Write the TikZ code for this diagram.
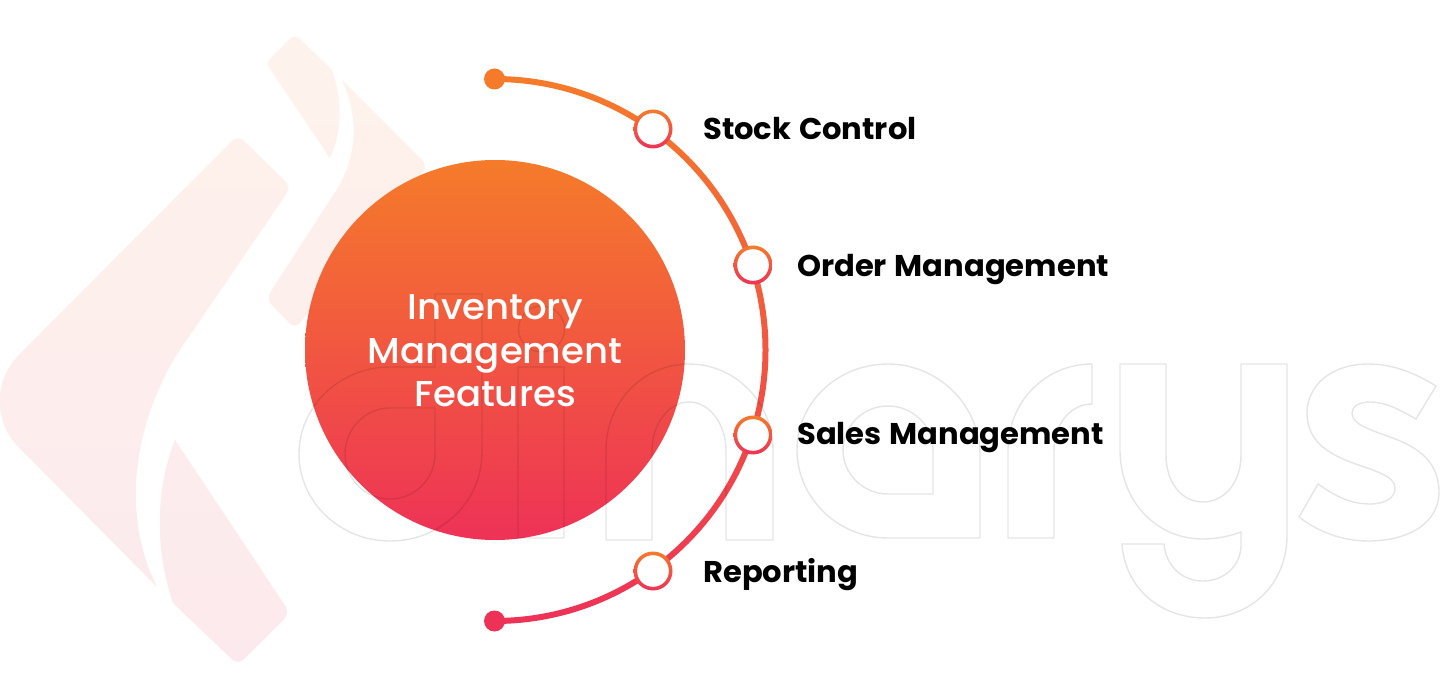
\documentclass[tikz,border=0pt]{standalone}
\usepackage{fontspec}
\setmainfont{Poppins}
\newfontfamily\hubfont{Poppins Medium}[FakeStretch=1.03]
\newfontfamily\itemfont{Poppins Bold}[FakeStretch=1.02,WordSpace=1.2]
\definecolor{warm}{HTML}{F57B2A}
\definecolor{rose}{HTML}{EE3257}
\definecolor{tintwarm}{HTML}{FEF3EC}
\definecolor{tintrose}{HTML}{FCE9ED}
\tikzset{
  hubdisc/.style={circle,minimum size=380pt,inner sep=0pt,shade,top color=warm,bottom color=rose},
  ringmark/.style={circle,minimum size=39pt,inner sep=0pt,shade,top color=warm,bottom color=rose,
    path picture={\fill[white] (path picture bounding box.center) circle[radius=15.8pt];}},
  enddot/.style={circle,minimum size=21pt,inner sep=0pt,fill=#1},
  hubtext/.style={text=white,align=center,font=\hubfont\fontsize{36}{43.5}\selectfont,inner sep=0pt},
  itemtext/.style={anchor=base west,inner sep=0pt,text=black,font=\itemfont\fontsize{30}{36}\selectfont},
  outline/.style={draw=black,draw opacity=.1,line width=1.4pt,line join=miter}
}
\begin{document}
\begin{tikzpicture}[x=1pt,y=-1pt]
\useasboundingbox (0,0) rectangle (1440,700);
\fill[white] (0,0) rectangle (1440,700);

% pale brand mark behind everything, one gradient over its four pieces
\begin{scope}
  \clip
    % small upper piece
    [rounded corners=6pt] (332,70) -- (295,34) -- (266,63) [sharp corners] -- (330,158)
      .. controls (343,130) and (342,98) .. (332,70) -- cycle
    % right piece, tucked under the disc
    (342,80) [rounded corners=8pt] -- (428,166) -- (295,329) -- (266,299) [sharp corners] -- (330,200)
      .. controls (355,165) and (362,125) .. (342,80) -- cycle
    % large left piece
    (157,587) [rounded corners=65pt] -- (-27,401) [rounded corners=8pt] -- (238,135) -- (291,187) [sharp corners]
      -- (190,335) .. controls (135,410) and (118,510) .. (157,587) -- cycle
    % lower piece
    (175,440) [rounded corners=8pt] -- (290,613) -- (238,665) [sharp corners] -- (173,603)
      .. controls (155,550) and (155,490) .. (175,440) -- cycle;
  \shade[top color=tintwarm,bottom color=tintrose] (-5,30) rectangle (440,670);
\end{scope}

% central disc
\node[hubdisc] (hub) at (495,350) {};

% curved spine between its two end dots
\node[enddot=warm] (dottop) at (494.5,79) {};
\node[enddot=rose] (dotbot) at (494.5,621) {};
\shade[top color=warm,bottom color=rose]
  ([yshift=3pt]dottop.center) arc[start angle=90,end angle=-90,radius=274pt]
  -- ([yshift=3pt]dotbot.center) arc[start angle=-90,end angle=90,radius=268pt] -- cycle;

% outlined wordmark
\path[outline]
  % d
  (482,294) -- (482,452) .. controls (482,502) and (441,541) .. (390,541)
    .. controls (340,541) and (299,502) .. (299,454)
    .. controls (299,406) and (340,367) .. (390,367) -- (435,367) -- (435,294) -- cycle
  (435,408) -- (390,408) .. controls (365,408) and (345,429) .. (345,454)
    .. controls (345,479) and (365,499) .. (390,499)
    .. controls (415,499) and (435,479) .. (435,454) -- cycle
  % i
  (518,367) rectangle (564,538)
  (541.5,329) circle[radius=23pt]
  % n
  (606,540) -- (606,450) .. controls (606,402) and (643,364) .. (689,364)
    .. controls (735,364) and (773,402) .. (773,450) -- (773,540) -- (726,540) -- (726,450)
    .. controls (726,425) and (710,402) .. (689,402)
    .. controls (668,402) and (652,425) .. (652,450) -- (652,540) -- cycle
  % a
  (980,538) -- (980,455) .. controls (980,405) and (938,364) .. (888,364)
    .. controls (838,364) and (797,402) .. (797,450)
    .. controls (797,498) and (838,538) .. (888,538) -- cycle
  (933,494) -- (888,494) .. controls (863,494) and (843,474) .. (843,450)
    .. controls (843,426) and (863,406) .. (888,406)
    .. controls (913,406) and (933,426) .. (933,450) -- cycle
  % r
  (1008,538) -- (1008,450) .. controls (1008,402) and (1045,364) .. (1092,364) -- (1092,404)
    .. controls (1070,404) and (1054,425) .. (1054,450) -- (1054,538) -- cycle
  % y
  (1120,364) -- (1166,364) -- (1166,455) .. controls (1166,483) and (1182,502) .. (1203,502)
    .. controls (1224,502) and (1241,483) .. (1241,455) -- (1241,364) -- (1287,364) -- (1287,535)
    .. controls (1287,585) and (1250,618) .. (1205,618)
    .. controls (1160,618) and (1125,588) .. (1122,544) -- (1164,544)
    .. controls (1166,566) and (1182,581) .. (1203,581)
    .. controls (1224,581) and (1241,566) .. (1241,545) -- (1241,532)
    .. controls (1230,536) and (1217,539) .. (1203,539)
    .. controls (1155,539) and (1120,500) .. (1120,450) -- cycle
  % s
  (1436,386) .. controls (1415,373) and (1393,364) .. (1368,364)
    .. controls (1332,364) and (1307,385) .. (1307,413)
    .. controls (1307,445) and (1335,456) .. (1353,463)
    .. controls (1375,471) and (1395,476) .. (1395,488)
    .. controls (1395,498) and (1385,504) .. (1370,504)
    .. controls (1350,504) and (1335,496) .. (1318,484) -- (1299,517)
    .. controls (1318,532) and (1343,541) .. (1368,541)
    .. controls (1410,541) and (1439,522) .. (1439,492)
    .. controls (1439,458) and (1412,445) .. (1390,437)
    .. controls (1368,429) and (1352,424) .. (1352,413)
    .. controls (1352,406) and (1360,402) .. (1370,402)
    .. controls (1386,402) and (1400,410) .. (1416,419) -- cycle;

% hub caption
\node[hubtext] (hublabel) at (495,351) {Inventory\\Management\\Features};

% feature markers and their captions
\node[ringmark] (stock) at (653,129) {};
\node[ringmark] (order) at (753,265) {};
\node[ringmark] (sales) at (753,435) {};
\node[ringmark] (report) at (653,571) {};
\node[itemtext] (stocktext) at (703,140) {Stock Control};
\node[itemtext] (ordertext) at (797,277) {Order Management};
\node[itemtext] (salestext) at (797,444) {Sales Management};
\node[itemtext] (reporttext) at (703,582) {Reporting};
\end{tikzpicture}
\end{document}
